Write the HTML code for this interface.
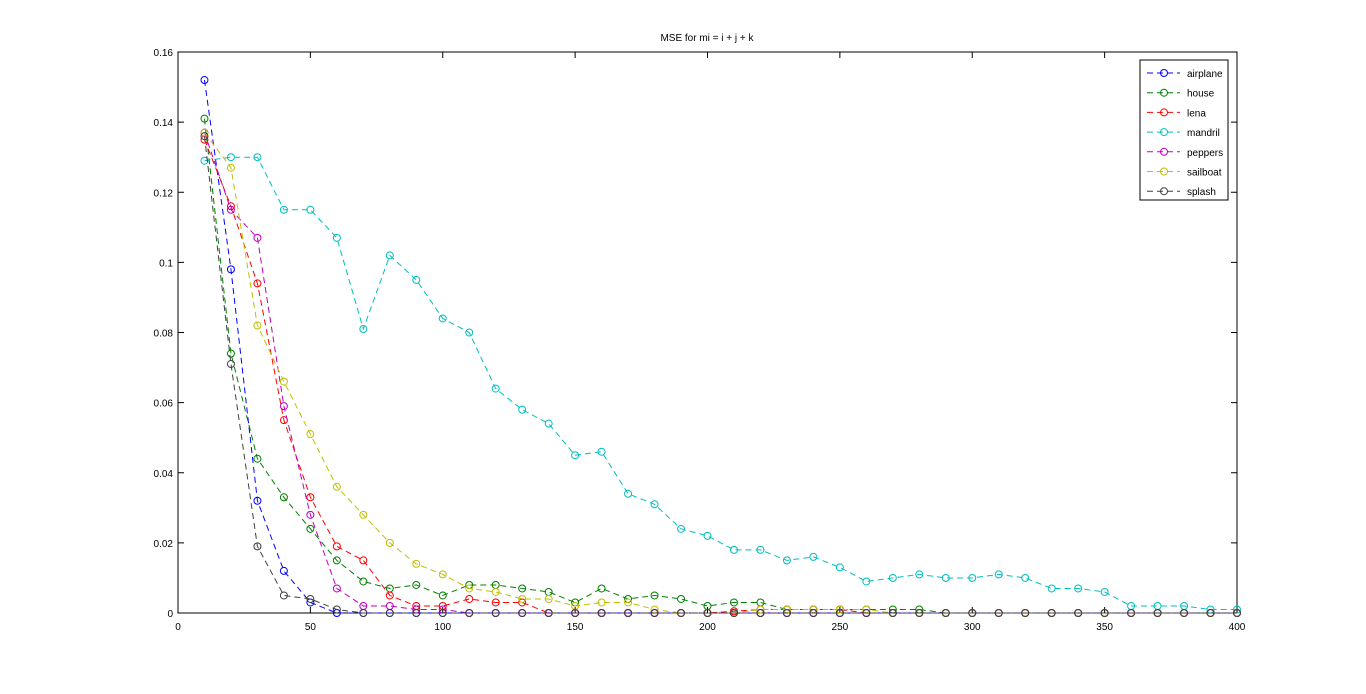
<!DOCTYPE html>
<html><head><meta charset="utf-8"><style>
body{margin:0;background:#fff;}
svg text{font-family:"Liberation Sans",sans-serif;font-size:10px;fill:#000;}
</style></head><body>
<svg id="chart" width="1366" height="689" xmlns="http://www.w3.org/2000/svg">
<rect width="1366" height="689" fill="#fff"/>
<text x="707" y="41" text-anchor="middle">MSE for mi = i + j + k</text>
<g id="axes"></g>
<g id="series"></g>
<g id="legend"></g>
</svg>
<script>
const xValues = [10,20,30,40,50,60,70,80,90,100,110,120,130,140,150,160,170,180,190,200,210,220,230,240,250,260,270,280,290,300,310,320,330,340,350,360,370,380,390,400];
const seriesNames = ["airplane","house","lena","mandril","peppers","sailboat","splash"];
const seriesColors = ["#0000ff","#008000","#ff0000","#00bfbf","#bf00bf","#bfbf00","#404040"];
const airplane = [0.152,0.098,0.032,0.012,0.003,0,0,0,0,0,0,0,0,0,0,0,0,0,0,0,0,0,0,0,0,0,0,0,0,0,0,0,0,0,0,0,0,0,0,0];
const house = [0.141,0.074,0.044,0.033,0.024,0.015,0.009,0.007,0.008,0.005,0.008,0.008,0.007,0.006,0.003,0.007,0.004,0.005,0.004,0.002,0.003,0.003,0.001,0.001,0.001,0.001,0.001,0.001,0,0,0,0,0,0,0,0,0,0,0,0];
const lena = [0.135,0.116,0.094,0.055,0.033,0.019,0.015,0.005,0.002,0.002,0.004,0.003,0.003,0,0,0,0,0,0,0,0.0005,0.001,0.001,0.001,0.001,0,0,0,0,0,0,0,0,0,0,0,0,0,0,0];
const mandril = [0.129,0.130,0.130,0.115,0.115,0.107,0.081,0.102,0.095,0.084,0.080,0.064,0.058,0.054,0.045,0.046,0.034,0.031,0.024,0.022,0.018,0.018,0.015,0.016,0.013,0.009,0.010,0.011,0.010,0.010,0.011,0.010,0.007,0.007,0.006,0.002,0.002,0.002,0.001,0.001];
const peppers = [0.137,0.115,0.107,0.059,0.028,0.007,0.002,0.002,0.001,0.001,0,0,0,0,0,0,0,0,0,0,0,0,0,0,0,0,0,0,0,0,0,0,0,0,0,0,0,0,0,0];
const sailboat = [0.137,0.127,0.082,0.066,0.051,0.036,0.028,0.020,0.014,0.011,0.007,0.006,0.004,0.004,0.002,0.003,0.003,0.001,0,0,0,0.001,0.001,0.001,0.001,0.001,0,0,0,0,0,0,0,0,0,0,0,0,0,0];
const splash = [0.136,0.071,0.019,0.005,0.004,0.001,0,0,0,0,0,0,0,0,0,0,0,0,0,0,0,0,0,0,0,0,0,0,0,0,0,0,0,0,0,0,0,0,0,0];
const xTicks = [0,50,100,150,200,250,300,350,400];
const yTicks = [0,0.02,0.04,0.06,0.08,0.1,0.12,0.14,0.16];
const yTickLabels = ["0","0.02","0.04","0.06","0.08","0.1","0.12","0.14","0.16"];

const NS="http://www.w3.org/2000/svg";
const L=178,R=1237,T=52,B=613;
const xs=v=>L+(v/400)*(R-L);
const ys=v=>B-(v/0.16)*(B-T);
function mk(tag,attrs,parent){const e=document.createElementNS(NS,tag);for(const k in attrs)e.setAttribute(k,attrs[k]);parent.appendChild(e);return e;}
const axes=document.getElementById('axes');
const box=mk('rect',{x:L,y:T,width:R-L,height:B-T,fill:'none',stroke:'#000','stroke-width':1},axes);


xTicks.forEach(v=>{
  const x=xs(v);
  mk('line',{x1:x,y1:B,x2:x,y2:B-6,stroke:'#000'},axes);
  mk('line',{x1:x,y1:T,x2:x,y2:T+6,stroke:'#000'},axes);
  const t=mk('text',{x:x,y:B+17,'text-anchor':'middle'},axes);
  t.textContent=v;
  
  
});
yTicks.forEach((v,i)=>{
  const y=ys(v);
  mk('line',{x1:L,y1:y,x2:L+6,y2:y,stroke:'#000'},axes);
  mk('line',{x1:R,y1:y,x2:R-6,y2:y,stroke:'#000'},axes);
  const t=mk('text',{x:L-5,y:y+4,'text-anchor':'end'},axes);
  t.textContent=yTickLabels[i];
  
  
});
const seriesData=[airplane,house,lena,mandril,peppers,sailboat,splash];
const sg=document.getElementById('series');
seriesData.forEach((arr,si)=>{
  const g=mk('g',{},sg);
  
  
  const pts=arr.map((v,i)=>xs(xValues[i])+','+ys(v)).join(' ');
  mk('polyline',{points:pts,fill:'none',stroke:seriesColors[si],'stroke-width':1,'stroke-dasharray':'6,4'},g);
  arr.forEach((v,i)=>{
    const c=mk('circle',{cx:xs(xValues[i]),cy:ys(v),r:3.5,fill:'none',stroke:seriesColors[si],'stroke-width':1},g);
    
    
  });
});
const lg=document.getElementById('legend');


mk('rect',{x:1140,y:60,width:88,height:140,fill:'#fff',stroke:'#000'},lg);
seriesNames.forEach((n,i)=>{
  const y=73+i*19.7;
  const e=mk('g',{},lg);
  
  
  mk('line',{x1:1147,y1:y,x2:1180,y2:y,stroke:seriesColors[i],'stroke-dasharray':'6,4'},e);
  mk('circle',{cx:1164,cy:y,r:3.5,fill:'none',stroke:seriesColors[i]},e);
  const t=mk('text',{x:1187,y:y+4},e);
  t.textContent=n;
});
</script>
</body></html>
